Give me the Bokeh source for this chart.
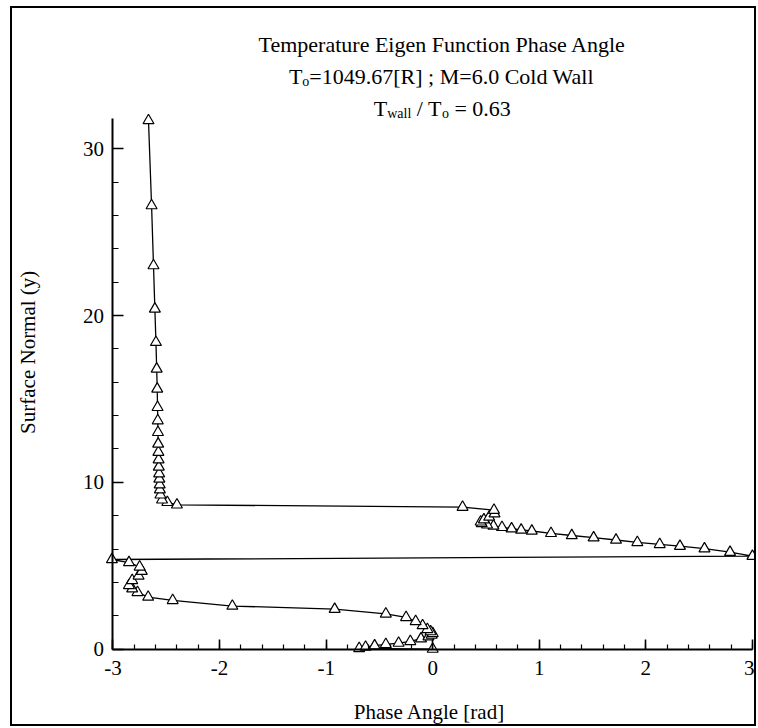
import math
from bokeh.plotting import figure
from bokeh.models import Range1d, SingleIntervalTicker, Label, ColumnDataSource, PrintfTickFormatter
from bokeh.embed import file_html
from bokeh.resources import INLINE

# ---- data (phase angle [rad], surface normal y) ----
phase = [0.0, -0.69, -0.63, -0.545, -0.44, -0.32, -0.21, -0.11, -0.04, -0.01,
         0.0, -0.02, -0.05, -0.095, -0.16, -0.25, -0.44, -0.92, -1.88, -2.44,
         -2.67, -2.77, -2.82, -2.85, -2.82, -2.76, -2.73, -2.75, -2.85, -3.01,
         3.0, 2.79, 2.55, 2.32, 2.13, 1.92, 1.72, 1.51, 1.305, 1.11,
         0.93, 0.83, 0.74, 0.65, 0.57, 0.51, 0.46, 0.45, 0.48, 0.53,
         0.58, 0.575, 0.28, -2.40, -2.49, -2.54, -2.555, -2.56, -2.562, -2.565,
         -2.567, -2.57, -2.572, -2.574, -2.576, -2.578, -2.58, -2.582, -2.585, -2.59,
         -2.597, -2.607, -2.62, -2.638, -2.667]
ynorm = [0.0, 0.04, 0.12, 0.2, 0.28, 0.36, 0.46, 0.62, 0.74, 0.84,
         0.94, 1.05, 1.18, 1.41, 1.66, 1.9, 2.11, 2.39, 2.58, 2.92,
         3.12, 3.40, 3.62, 3.82, 4.12, 4.39, 4.67, 4.93, 5.19, 5.37,
         5.57, 5.81, 6.02, 6.17, 6.28, 6.40, 6.54, 6.68, 6.81, 6.94,
         7.08, 7.14, 7.22, 7.30, 7.38, 7.45, 7.53, 7.63, 7.76, 7.92,
         8.12, 8.33, 8.51, 8.65, 8.80, 8.95, 9.25, 9.56, 9.86, 10.2,
         10.52, 10.92, 11.36, 11.81, 12.3, 13.0, 13.7, 14.5, 15.6, 16.8,
         18.4, 20.4, 23.0, 26.6, 31.7]

title1 = "Temperature Eigen Function Phase Angle"
title2 = [("T", "main"), ("o", "sub"), ("=1049.67[R] ; M=6.0 Cold Wall", "main")]
title3 = [("T", "main"), ("wall", "sub"), (" / T", "main"), ("o", "sub"), (" = 0.63", "main")]
xlabel = "Phase Angle [rad]"
ylabel = "Surface Normal (y)"

FONT = "Liberation Serif"
MAIN = 21
TITLE = 22
SUB = 14

# frame covers the whole canvas; axes are pinned at x=-3 and y=0
p = figure(width=746, height=720, title=None,
           x_range=Range1d(-3.943, 3.057), y_range=Range1d(-4.765, 38.42),
           output_backend="svg", toolbar_location=None,
           min_border_left=0, min_border_right=0,
           min_border_top=0, min_border_bottom=0)
p.styles = {"border": "2px solid black", "margin-left": "10px", "margin-top": "6px"}
p.grid.visible = False
p.outline_line_color = None
p.background_fill_color = "white"
p.border_fill_color = "white"

src = ColumnDataSource(dict(x=phase, y=ynorm))
p.line("x", "y", source=src, line_color="black", line_width=1.3)
p.scatter("x", "y", source=src, marker="triangle", size=11,
          fill_color="white", line_color="black", line_width=1.2)

for ax, loc, bnds, ticker, tin, mtin in (
        (p.xaxis[0], 0, (-3, 3), SingleIntervalTicker(interval=1, num_minor_ticks=5), 10, 5),
        (p.yaxis[0], -3, (0, 31.8), SingleIntervalTicker(interval=10, num_minor_ticks=5), 11, 6)):
    ax.fixed_location = loc
    ax.bounds = bnds
    ax.ticker = ticker
    ax.formatter = PrintfTickFormatter(format="%d")
    ax.axis_line_width = 2
    ax.axis_line_color = "black"
    ax.major_tick_in = tin
    ax.major_tick_out = 0
    ax.minor_tick_in = mtin
    ax.minor_tick_out = 0
    ax.major_tick_line_width = 1.6
    ax.minor_tick_line_width = 1.2
    ax.major_tick_line_color = "black"
    ax.minor_tick_line_color = "black"
    ax.major_label_text_font = FONT
    ax.major_label_text_font_size = f"{MAIN}px"
    ax.major_label_text_color = "black"
p.xaxis[0].major_label_standoff = 12
p.yaxis[0].major_label_standoff = 9

# Times advance widths (1/1000 em) for placing the pieces of the title lines
TW = {'T': 611, 'o': 500, '=': 564, '1': 500, '0': 500, '4': 500, '9': 500, '.': 250,
      '6': 500, '7': 500, '[': 333, 'R': 667, ']': 333, ' ': 250, ';': 278, 'M': 889,
      'C': 667, 'l': 278, 'd': 500, 'W': 944, 'a': 444, 'w': 722, '/': 278, '3': 500}


def width(s, size):
    return sum(TW.get(c, 500) for c in s) * size / 1000.0


def add_line(pieces, xc, yb):
    sizes = [TITLE if kind == "main" else SUB for _, kind in pieces]
    total = sum(width(t, s) for (t, _), s in zip(pieces, sizes))
    off = -total / 2.0
    for (t, kind), s in zip(pieces, sizes):
        lead = len(t) - len(t.lstrip(" "))
        off += width(" " * lead, s)
        core = t.strip(" ")
        p.add_layout(Label(x=xc, y=yb, x_offset=off, y_offset=(0 if kind == "main" else -5),
                           text=core, text_font=FONT, text_font_size=f"{s}px",
                           text_color="black", text_align="left",
                           text_baseline="alphabetic"))
        off += width(t.lstrip(" "), s)


TX = 0.09
p.add_layout(Label(x=TX, y=36.28, text=title1, text_font=FONT,
                   text_font_size=f"{TITLE}px", text_align="center",
                   text_baseline="alphabetic", text_color="black"))
add_line(title2, TX, 34.32)
add_line(title3, TX, 32.45)

p.add_layout(Label(x=-0.03, y=-3.8, text=xlabel, text_font=FONT,
                   text_font_size=f"{MAIN}px", text_align="center",
                   text_baseline="middle", text_color="black"))
p.add_layout(Label(x=-3.8, y=17.8, text=ylabel, angle=math.pi / 2, text_font=FONT,
                   text_font_size=f"{MAIN}px", text_align="center",
                   text_baseline="middle", text_color="black"))

open("out.html", "w").write(file_html(p, INLINE))
